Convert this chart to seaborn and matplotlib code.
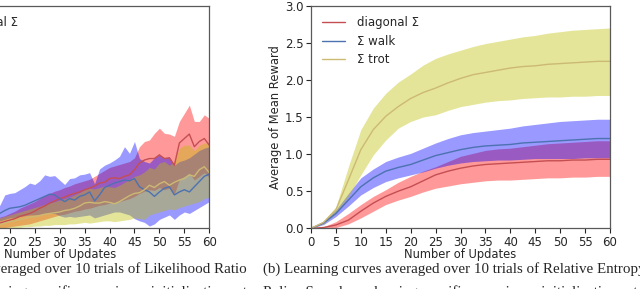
import numpy as np
import matplotlib
matplotlib.use('Agg')
import matplotlib.pyplot as plt
import seaborn as sns

# Left panel (Likelihood Ratio Policy Gradient), only the visible part x=16..60
lr_updates = list(range(16, 61))
lr_diag_mean = [0.03, 0.05, 0.07, 0.09, 0.11, 0.13, 0.16, 0.18, 0.20, 0.23, 0.27, 0.30, 0.34, 0.37, 0.40,
                0.42, 0.45, 0.47, 0.49, 0.52, 0.54, 0.57, 0.61, 0.62, 0.67, 0.68, 0.67, 0.70, 0.72, 0.79,
                0.88, 0.92, 0.94, 0.94, 0.99, 0.94, 0.95, 0.85, 1.15, 1.21, 1.27, 1.10, 1.17, 1.21, 1.12]
lr_diag_upper = [0.10, 0.12, 0.15, 0.17, 0.20, 0.23, 0.27, 0.30, 0.33, 0.36, 0.40, 0.44, 0.47, 0.50, 0.52,
                 0.55, 0.57, 0.60, 0.62, 0.64, 0.66, 0.70, 0.74, 0.78, 0.82, 0.84, 0.86, 0.88, 0.90, 0.95,
                 1.10, 1.17, 1.19, 1.28, 1.35, 1.28, 1.27, 1.24, 1.44, 1.55, 1.66, 1.44, 1.44, 1.53, 1.48]
lr_diag_lower = [0.00, 0.00, 0.00, 0.01, 0.02, 0.03, 0.04, 0.05, 0.06, 0.08, 0.10, 0.12, 0.14, 0.16, 0.18,
                 0.19, 0.21, 0.23, 0.24, 0.26, 0.27, 0.29, 0.31, 0.32, 0.34, 0.35, 0.36, 0.38, 0.40, 0.43,
                 0.47, 0.50, 0.52, 0.51, 0.55, 0.52, 0.54, 0.46, 0.66, 0.70, 0.74, 0.65, 0.70, 0.75, 0.68]
lr_walk_mean = [0.15, 0.17, 0.20, 0.24, 0.27, 0.28, 0.29, 0.31, 0.34, 0.37, 0.40, 0.43, 0.46, 0.45, 0.40,
                0.36, 0.40, 0.38, 0.43, 0.45, 0.49, 0.37, 0.45, 0.55, 0.58, 0.61, 0.63, 0.65, 0.64, 0.67,
                0.56, 0.52, 0.49, 0.43, 0.49, 0.54, 0.56, 0.45, 0.49, 0.52, 0.49, 0.56, 0.63, 0.70, 0.73]
lr_walk_upper = [0.25, 0.28, 0.31, 0.45, 0.47, 0.48, 0.52, 0.56, 0.61, 0.59, 0.64, 0.72, 0.70, 0.71, 0.65,
                 0.59, 0.67, 0.68, 0.72, 0.73, 0.75, 0.60, 0.80, 0.85, 0.88, 0.92, 0.97, 1.10, 1.01, 1.17,
                 0.94, 0.90, 0.88, 0.95, 0.99, 0.95, 0.96, 0.85, 0.90, 0.92, 0.95, 1.00, 1.05, 1.08, 1.10]
lr_walk_lower = [0.05, 0.08, 0.10, 0.12, 0.14, 0.15, 0.16, 0.17, 0.18, 0.18, 0.19, 0.20, 0.20, 0.20, 0.17,
                 0.15, 0.16, 0.15, 0.16, 0.17, 0.18, 0.14, 0.16, 0.18, 0.20, 0.22, 0.22, 0.20, 0.18, 0.13,
                 0.10, 0.08, 0.03, 0.06, 0.12, 0.15, 0.18, 0.12, 0.18, 0.22, 0.20, 0.24, 0.28, 0.32, 0.36]
lr_trot_mean = [0.02, 0.03, 0.05, 0.07, 0.09, 0.10, 0.12, 0.13, 0.15, 0.16, 0.17, 0.19, 0.20, 0.21, 0.22,
                0.24, 0.25, 0.27, 0.30, 0.34, 0.35, 0.34, 0.34, 0.36, 0.35, 0.33, 0.36, 0.40, 0.44, 0.47,
                0.48, 0.52, 0.58, 0.55, 0.60, 0.63, 0.58, 0.62, 0.65, 0.67, 0.72, 0.70, 0.79, 0.83, 0.75]
lr_trot_upper = [0.10, 0.12, 0.14, 0.16, 0.18, 0.20, 0.22, 0.24, 0.26, 0.28, 0.30, 0.32, 0.34, 0.36, 0.38,
                 0.40, 0.42, 0.45, 0.48, 0.52, 0.54, 0.53, 0.55, 0.57, 0.56, 0.55, 0.58, 0.62, 0.66, 0.70,
                 0.72, 0.76, 0.82, 0.80, 0.88, 0.90, 0.85, 0.90, 1.08, 1.12, 1.12, 1.05, 1.12, 1.15, 1.15]
lr_trot_lower = [0.00, 0.00, 0.00, 0.00, 0.00, 0.01, 0.01, 0.02, 0.02, 0.03, 0.03, 0.04, 0.04, 0.05, 0.05,
                 0.05, 0.06, 0.06, 0.07, 0.08, 0.07, 0.08, 0.09, 0.10, 0.10, 0.09, 0.10, 0.11, 0.12, 0.14,
                 0.13, 0.12, 0.18, 0.20, 0.22, 0.24, 0.26, 0.25, 0.28, 0.30, 0.32, 0.34, 0.36, 0.40, 0.42]

# Right panel (Relative Entropy Policy Search)
reps_updates = [0, 2.5, 5, 7.5, 10, 12.5, 15, 17.5, 20, 22.5, 25, 27.5, 30, 32.5, 35, 37.5, 40, 42.5, 45,
                47.5, 50, 52.5, 55, 57.5, 60]
reps_diag_mean = [0, 0.01, 0.045, 0.11, 0.23, 0.34, 0.43, 0.50, 0.56, 0.64, 0.72, 0.77, 0.81, 0.84, 0.86,
                  0.87, 0.88, 0.89, 0.90, 0.91, 0.91, 0.92, 0.92, 0.93, 0.93]
reps_diag_upper = [0, 0.02, 0.09, 0.20, 0.32, 0.43, 0.52, 0.62, 0.70, 0.77, 0.83, 0.90, 0.97, 1.01, 1.05,
                   1.07, 1.08, 1.10, 1.12, 1.14, 1.15, 1.16, 1.17, 1.18, 1.18]
reps_diag_lower = [0, 0.0, 0.01, 0.06, 0.14, 0.23, 0.32, 0.38, 0.43, 0.49, 0.54, 0.57, 0.60, 0.62, 0.64,
                   0.65, 0.65, 0.66, 0.67, 0.68, 0.68, 0.69, 0.69, 0.70, 0.70]
reps_walk_mean = [0, 0.07, 0.20, 0.38, 0.56, 0.68, 0.77, 0.82, 0.86, 0.92, 0.98, 1.02, 1.06, 1.09, 1.11,
                  1.12, 1.13, 1.15, 1.16, 1.17, 1.18, 1.19, 1.20, 1.21, 1.21]
reps_walk_upper = [0, 0.09, 0.25, 0.47, 0.68, 0.80, 0.90, 0.96, 1.01, 1.08, 1.15, 1.21, 1.26, 1.29, 1.31,
                   1.33, 1.35, 1.38, 1.40, 1.42, 1.44, 1.45, 1.46, 1.47, 1.47]
reps_walk_lower = [0, 0.05, 0.16, 0.30, 0.45, 0.55, 0.63, 0.68, 0.72, 0.76, 0.81, 0.85, 0.88, 0.90, 0.91,
                   0.92, 0.92, 0.93, 0.94, 0.94, 0.94, 0.94, 0.95, 0.95, 0.95]
reps_trot_mean = [0, 0.08, 0.25, 0.65, 1.06, 1.33, 1.51, 1.64, 1.75, 1.83, 1.89, 1.96, 2.02, 2.07, 2.10,
                  2.13, 2.16, 2.18, 2.19, 2.21, 2.22, 2.23, 2.24, 2.25, 2.25]
reps_trot_upper = [0, 0.10, 0.29, 0.83, 1.33, 1.62, 1.82, 1.97, 2.08, 2.20, 2.29, 2.35, 2.40, 2.45, 2.49,
                   2.52, 2.55, 2.58, 2.60, 2.63, 2.65, 2.67, 2.68, 2.69, 2.70]
reps_trot_lower = [0, 0.06, 0.20, 0.43, 0.72, 0.99, 1.19, 1.35, 1.44, 1.50, 1.53, 1.59, 1.64, 1.67, 1.70,
                   1.72, 1.73, 1.75, 1.76, 1.77, 1.77, 1.78, 1.78, 1.79, 1.79]

labels = ['diagonal Σ', 'Σ walk', 'Σ trot']
line_colors = ['#C44E52', '#4C72B0', '#CCB974']
fill_colors = ['r', 'b', 'y']

sns.set_style('ticks', {'axes.edgecolor': '.35', 'xtick.color': '.15', 'ytick.color': '.15'})
plt.rcParams['font.family'] = ['DejaVu Sans']
plt.rcParams['font.size'] = 8

W, H = 640, 289
fig = plt.figure(figsize=(W / 100, H / 100), dpi=100)
bottom = (H - 228.3) / H
height = (228.3 - 5.7) / H
ax_l = fig.add_axes([-90 / W, bottom, 299.3 / W, height])
ax_r = fig.add_axes([311 / W, bottom, 299 / W, height])


def draw(ax, x, means, uppers, lowers):
    for m, u, lo, lab, lc, fc in zip(means, uppers, lowers, labels, line_colors, fill_colors):
        ax.fill_between(x, lo, u, color=fc, alpha=0.4, linewidth=0)
        sns.lineplot(x=x, y=m, ax=ax, color=lc, linewidth=1.0, label=lab)
    ax.set_xlim(0, 60)
    ax.set_ylim(0, 3)
    ax.set_xticks(range(0, 61, 5))
    ax.set_yticks([0, 0.5, 1.0, 1.5, 2.0, 2.5, 3.0])
    ax.tick_params(labelsize=8.5, length=3.5, width=0.8, pad=2)
    ax.set_xlabel('Number of Updates', fontsize=8.3, labelpad=-1)
    ax.set_ylabel('Average of Mean Reward', fontsize=8.3, labelpad=2)
    for s in ax.spines.values():
        s.set_linewidth(0.9)
    ax.legend(loc='upper left', frameon=False, fontsize=8.5, handlelength=2.0,
              handletextpad=1.0, labelspacing=0.45)


draw(ax_l, lr_updates, [lr_diag_mean, lr_walk_mean, lr_trot_mean],
     [lr_diag_upper, lr_walk_upper, lr_trot_upper], [lr_diag_lower, lr_walk_lower, lr_trot_lower])
draw(ax_r, reps_updates, [reps_diag_mean, reps_walk_mean, reps_trot_mean],
     [reps_diag_upper, reps_walk_upper, reps_trot_upper],
     [reps_diag_lower, reps_walk_lower, reps_trot_lower])

# captions (serif, like the paper)
cap = dict(family='Liberation Serif', fontsize=10.8, va='center')
fig.text(247 / W, 1 - 269 / H, '(a) Learning curves averaged over 10 trials of Likelihood Ratio', ha='right', **cap)
fig.text(247 / W, 1 - 292 / H, 'Policy Gradient, each using specific covariance initializations at', ha='right', **cap)
fig.text(263 / W, 1 - 269 / H, '(b) Learning curves averaged over 10 trials of Relative Entropy', ha='left', **cap)
fig.text(263 / W, 1 - 292 / H, 'Policy Search, each using specific covariance initializations at', ha='left', **cap)

fig.savefig('out.png', dpi=100)
